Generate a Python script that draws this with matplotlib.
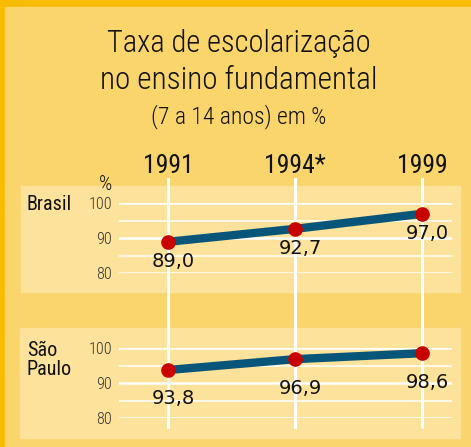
import matplotlib
matplotlib.use("Agg")
import matplotlib.pyplot as plt
import matplotlib.transforms as mtransforms
from matplotlib.patches import Rectangle

# ---- data ----
years = ["1991", "1994*", "1999"]
brasil = [89.0, 92.7, 97.0]
sao_paulo = [93.8, 96.9, 98.6]
panel_names = ["Brasil", "São\nPaulo"]
yticks = [80, 90, 100]
yminor = [85, 95]
title_lines = ["Taxa de escolarização", "no ensino fundamental"]
subtitle = "(7 a 14 anos) em %"

NARROW = ["Roboto Condensed", "DejaVu Sans"]
ORANGE = "#F9BB00"
BG = "#FAD56B"
PANEL = "#FCE29B"
LINE = "#075578"
RED = "#C80000"

W, H = 471, 447
fig = plt.figure(figsize=(W / 100, H / 100), dpi=100)
fig.patch.set_facecolor(ORANGE)

bg = fig.add_axes([0, 0, 1, 1], zorder=0)
bg.set_xlim(0, W)
bg.set_ylim(H, 0)
bg.axis("off")
bg.add_patch(Rectangle((5, 7), W - 5, H - 7, color=BG, zorder=0))
bg.add_patch(Rectangle((21, 186), 439, 106, color=PANEL, zorder=1))
bg.add_patch(Rectangle((20, 328), 440, 110, color=PANEL, zorder=1))

# titles
bg.text(239, 52, title_lines[0], ha="center", va="baseline", fontsize=22,
        family=NARROW, weight="light", color="#111111")
bg.text(239, 89, title_lines[1], ha="center", va="baseline", fontsize=22.5,
        family=NARROW, weight="light", color="#111111")
bg.text(239, 123, subtitle, ha="center", va="baseline", fontsize=17,
        family=NARROW, weight="light", color="#111111")

def make_panel(bottom_px, values, name, name_y, label_off):
    ax = fig.add_axes([119 / W, 1 - bottom_px / H, 333 / W, 70 / H], zorder=2)
    ax.set_facecolor("none")
    ax.set_xlim(-0.386, 2.236)
    ax.set_ylim(80, 100)
    ax.set_yticks(yticks)
    ax.set_yticks(yminor, minor=True)
    ax.set_xticks([])
    ax.grid(axis="y", which="major", color="white", lw=1.8, zorder=1)
    ax.grid(axis="y", which="minor", color="white", lw=1.1, zorder=1)
    ax.tick_params(axis="y", which="both", length=0, pad=5, labelsize=11.5,
                   labelcolor="#333333")
    for lab in ax.get_yticklabels():
        lab.set_family(NARROW)
        lab.set_weight("light")
    for s in ax.spines.values():
        s.set_visible(False)
    x = list(range(len(values)))
    ax.plot(x, values, color=LINE, lw=6, solid_capstyle="butt", zorder=3,
            clip_on=False)
    ax.plot(x, values, "o", color=RED, ms=9.5, zorder=4, clip_on=False)
    for xi, v in zip(x, values):
        ax.annotate(f"{v:.1f}".replace(".", ","), (xi, v),
                    xytext=(5, -label_off), textcoords="offset pixels",
                    ha="center", va="center", fontsize=14, color="#111111",
                    annotation_clip=False)
    bg.text(27, name_y, name, ha="left", va="center", fontsize=14.5,
            family=NARROW, color="#111111", linespacing=0.95)
    return ax

ax1 = make_panel(273.3, brasil, panel_names[0], 205, 20)
ax2 = make_panel(418.3, sao_paulo, panel_names[1], 360, 29)

# vertical lines and year labels
tr = mtransforms.blended_transform_factory(ax1.transData, bg.transData)
for i, yr in enumerate(years):
    bg.plot([i, i], [179, 427], color="white", lw=2.2, transform=tr, zorder=2)
    bg.text(i, 173, yr, transform=tr, ha="center", va="baseline",
            fontsize=18.5, family=NARROW, color="#111111")

bg.text(106, 184, "%", ha="center", va="center", fontsize=15,
        family=NARROW, weight="light", color="#111111")

fig.savefig("out.png", dpi=100, facecolor=fig.get_facecolor())
